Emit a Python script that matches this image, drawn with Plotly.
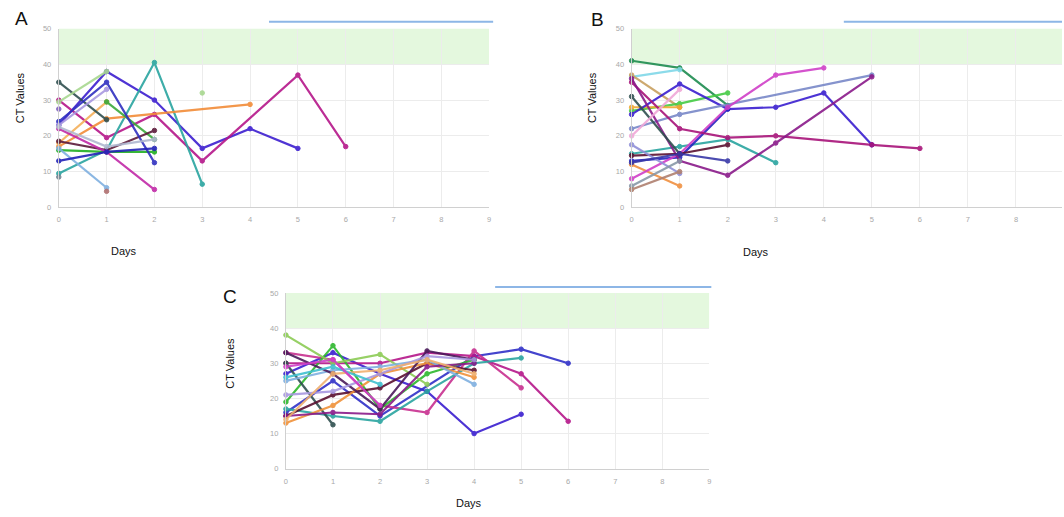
import plotly.graph_objects as go

# ---------------- data ----------------
A_days = [[0,1,2,3,4,5],[0,1,2,3,5,6],[0,1,2,3],[0,1,4],[0,1],[0,1],[0,1,2],[1,2],[0,1],[3],
          [0,1,2],[0,1,2],[0,1],[0,1,2],[0,1,2],[0,1],[0,1,2],[1],[0],[0]]
A_ct = [[23,38,30,16.5,22,16.5],[30,19.5,26,13,37,17],[9.5,16,40.5,6.5],[17,24.8,28.8],[18,29.5],
        [35,24.5],[16,15.5,15.5],[29.5,19],[29.5,38],[32],[18.5,16,21.5],[22,15.5,5],[16.5,5.5],
        [24,35,12.5],[13,15.5,16.5],[23,33],[22.5,17,19],[4.5],[8.5],[27.5]]
A_colors = ["#3d1fd0","#b5178a","#2aa5a0","#f28c38","#f5b05a","#2f4f4f","#22b022","#3aa83a","#a8d890",
            "#a8d890","#5c1a3a","#c22aa8","#7fb0e0","#3030c0","#2222b8","#a898e0","#b0b8d0","#b07070",
            "#708090","#8060c0"]

B_days = [[0,1,2],[0,1,2,3],[0,1],[0,1],[0,1,2],[0,1],[0,1],[0,1,2,3,4,5],[0,1,2],[0,1,5],
          [0,1,2,3,4],[0,1,2,3,5,6],[0,1,2,3,5],[0,1],[0,1,2],[0,1],[0,1],[0,1,2],[0,1],[0,1]]
B_ct = [[41,39,28.5],[15,17,19,12.5],[36.5,38.5],[37,28],[27,29,32],[28,28],[12,6],
        [26,34.5,27.5,28,32,17.5],[13,14,27.5],[22,26,37],[8,15,28,37,39],[35,22,19.5,20,17.5,16.5],
        [36,13,9,18,36.5],[31,15],[14.5,15,17.5],[17.5,9.5],[20,33],[12.5,15,13],[6,13],[5,10]]
B_colors = ["#1e8c50","#2aa5a0","#80d8e8","#c8a060","#44cc44","#f0a830","#f09040","#3a1fd0","#2424c0",
            "#7888c8","#d040c8","#a8147a","#8a1a8a","#2f4f4f","#5a1030","#9090d8","#f0a8d8","#3838a8",
            "#8898a8","#b08070"]

C_days = [[0,1,2,3,4,5],[0,1,2,4,5,6],[0,1,2,3,4,5,6],[0,1,2,3,4,5],[0,1,2,3,4,5],[0,1,2,3,4],
          [0,1,2,3],[0,1],[0,1,2,3,4],[0,1,2,3,4],[0,1,2,3,4],[0,1,2,3,4],[0,1,2,3,4],[0,1,2,3,4],
          [0,1,2,3,4],[0,1,2],[0,1,2]]
C_ct = [[27,33,27,22,10,15.5],[16,25,15,32,34,30],[30,30,30,33,32,27,13.5],[33,31,18,16,33.5,23],
        [17,15,13.5,22,30,31.5],[19,35,17,27,31],[38,30,32.5,24],[30,12.5],[15,21,23,30,28],
        [13,18,27,30,26],[25,28,29,31,24],[15,16,15.5,29,30],[33,27,17,33.5,31],[21,22,27,32,31],
        [14,27,28,31,27],[26,29,24],[29,31,18]]
C_colors = ["#3a1fd0","#3030c8","#b5178a","#c83090","#2aa5a0","#2db82d","#8ccc55","#2f4f4f","#5a1030",
            "#f0923a","#7fb0e0","#8a1a8a","#4a1a5a","#a898e0","#f0b070","#40c0d0","#d040c8"]

y_ticks = [0, 10, 20, 30, 40, 50]
x_ticks = [0, 1, 2, 3, 4, 5, 6, 7, 8, 9]
band = [40, 50]

W, H = 1064, 517

fig = go.Figure()

def add_panel(days, cts, colors, xa, ya):
    for d, c, col in zip(days, cts, colors):
        fig.add_trace(go.Scatter(
            x=d, y=c, mode="lines+markers" if len(d) > 1 else "markers",
            line=dict(color=col, width=2.2),
            marker=dict(color=col, size=4.5, line=dict(color=col, width=1)),
            opacity=0.9, cliponaxis=False, showlegend=False,
            xaxis=xa, yaxis=ya, hoverinfo="skip"))

add_panel(A_days, A_ct, A_colors, "x", "y")
add_panel(B_days, B_ct, B_colors, "x2", "y2")
add_panel(C_days, C_ct, C_colors, "x3", "y3")

def xdom(p0, p1):
    return [p0 / W, min(p1 / W, 1.0)]

def ydom(top, bottom):
    return [1 - bottom / H, 1 - top / H]

axis_common = dict(showgrid=True, gridcolor="#ececec", gridwidth=1, zeroline=False,
                   showline=True, linecolor="#d0d0d0", ticks="",
                   tickfont=dict(size=7.5, color="#a8a8a8", family="Arial"), fixedrange=True)

def add_axes(sfx, x0, x1, top, bottom, xmax):
    fig.layout["xaxis" + sfx] = dict(axis_common, domain=xdom(x0, x1), range=[0, xmax],
                                     tickvals=x_ticks, anchor="y" + sfx, ticklabelstandoff=5)
    fig.layout["yaxis" + sfx] = dict(axis_common, domain=ydom(top, bottom), range=[0, 50],
                                     tickvals=y_ticks, anchor="x" + sfx, ticklabelstandoff=5)

add_axes("", 57, 489, 25, 207, 9)
add_axes("2", 632, 1064, 25, 207, 9 * (1064 - 632) / (1066 - 632))
add_axes("3", 285, 710, 294, 473, 9)

shapes = []
for sfx in ["", "2", "3"]:
    shapes.append(dict(type="rect", xref="x" + sfx, yref="y" + sfx, x0=0, x1=9,
                       y0=band[0], y1=band[1], fillcolor="#e4f8de", line=dict(width=0), layer="below"))
# thin blue bars above each panel
for (x0, x1, y) in [(268, 493, 18), (845, 1064, 18), (495, 712, 288)]:
    shapes.append(dict(type="line", xref="paper", yref="paper", x0=x0 / W, x1=x1 / W,
                       y0=1 - y / H, y1=1 - y / H, line=dict(color="#8db6e6", width=2)))
fig.update_layout(shapes=shapes)

ann = []
for (t, x, y) in [("A", 20, 15), ("B", 598, 16), ("C", 229, 298)]:
    ann.append(dict(text=t, x=x / W, y=1 - y / H, xref="paper", yref="paper", showarrow=False,
                    font=dict(size=19, color="#111", family="Arial"), xanchor="center", yanchor="middle"))
for (x, y) in [(18, 95), (593, 95), (228, 366)]:
    ann.append(dict(text="CT Values", x=x / W, y=1 - y / H, xref="paper", yref="paper", showarrow=False,
                    textangle=-90, font=dict(size=11, color="#111", family="Arial"),
                    xanchor="center", yanchor="middle"))
for (x, y) in [(122, 251), (757, 252), (469, 508)]:
    ann.append(dict(text="Days", x=x / W, y=1 - y / H, xref="paper", yref="paper", showarrow=False,
                    font=dict(size=11, color="#111", family="Arial"), xanchor="center", yanchor="middle"))
fig.update_layout(annotations=ann)

fig.update_layout(width=W, height=H, margin=dict(l=0, r=0, t=0, b=0),
                  paper_bgcolor="white", plot_bgcolor="white", showlegend=False)

fig.write_html("out.html", config={"displayModeBar": False},
               post_script="document.body.style.margin='0';document.body.style.overflow='hidden';")
